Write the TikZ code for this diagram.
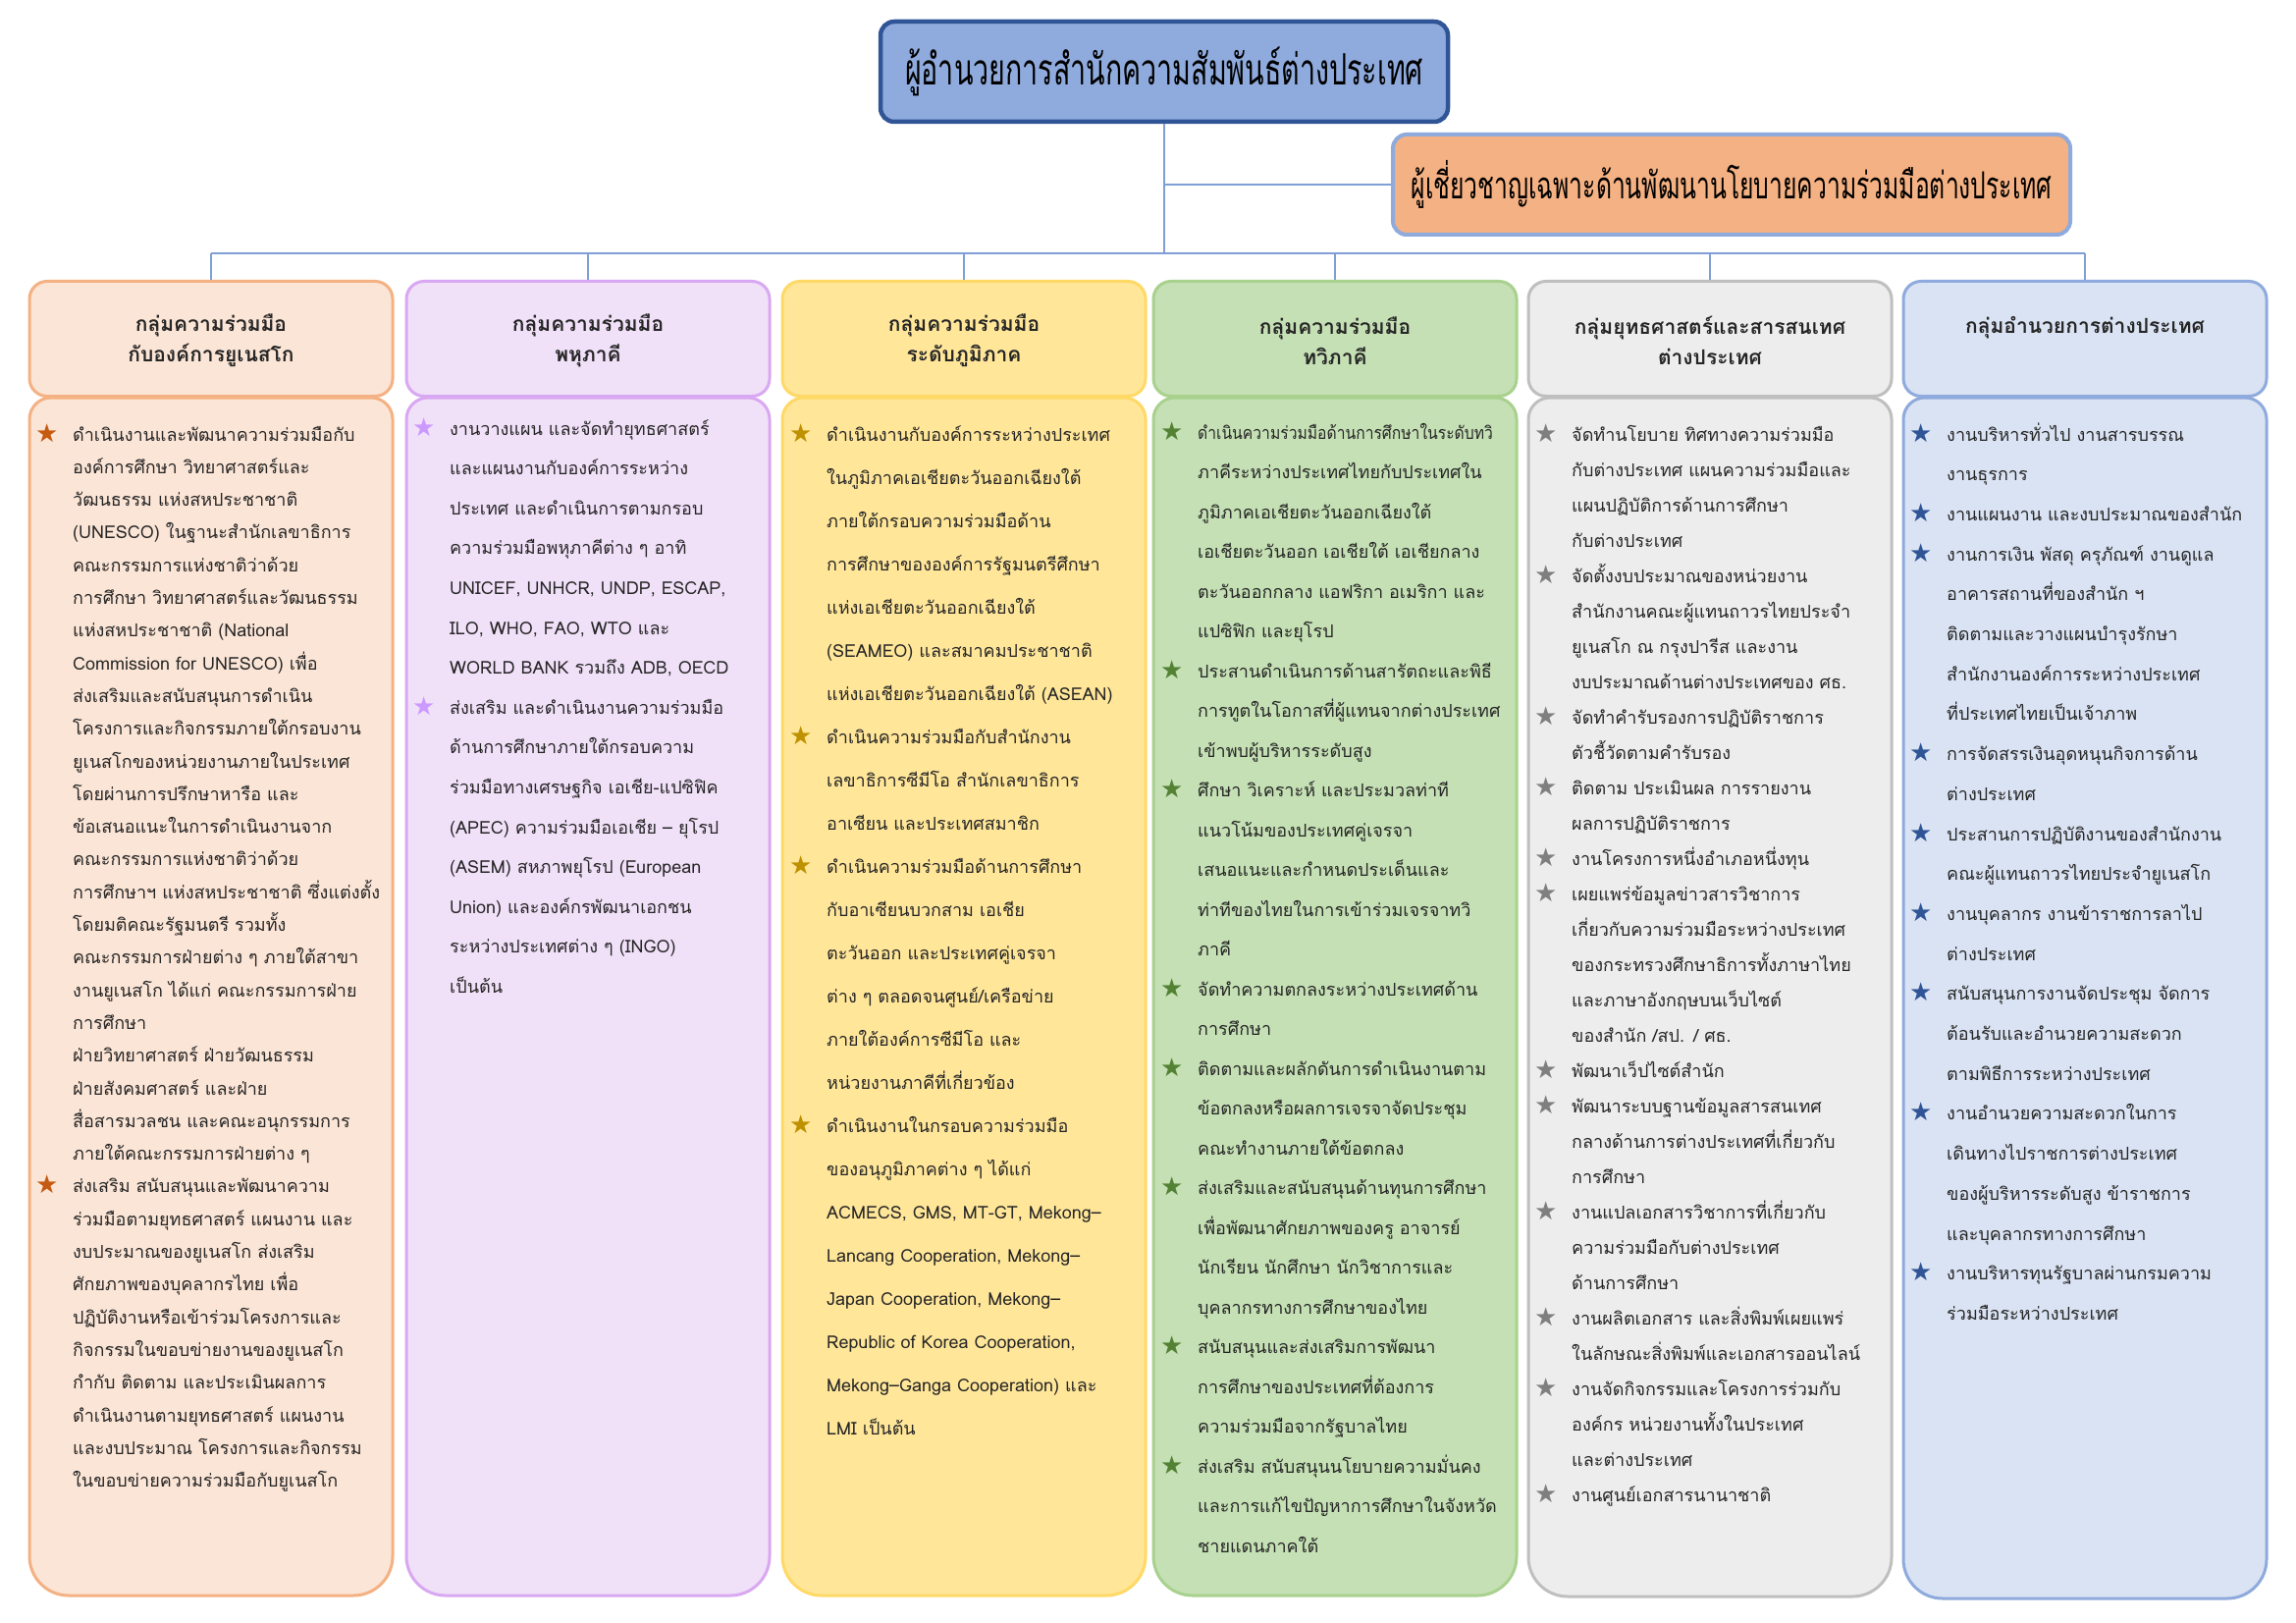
\documentclass[tikz,border=0pt]{standalone}
\usepackage{graphicx}
\usepackage{fontspec}
\setmainfont[Script=Thai]{Loma}
\newfontfamily\thai[Script=Thai]{Loma}
\newfontfamily\cond[Script=Thai,FakeStretch=0.65]{Loma}
\newfontfamily\symf{DejaVu Sans}
\setlength\parindent{0pt}
\definecolor{txt}{HTML}{262626}
\definecolor{conn}{HTML}{7F9FD5}
\definecolor{titlefill}{HTML}{8FAADC}
\definecolor{titledraw}{HTML}{2F5597}
\definecolor{expfill}{HTML}{F4B183}
\definecolor{expdraw}{HTML}{8FAADC}
\definecolor{fa}{HTML}{FBE5D6}\definecolor{da}{HTML}{F4B183}\definecolor{sa}{HTML}{C55A11}
\definecolor{fb}{HTML}{F0E0F8}\definecolor{db}{HTML}{D9A8F2}\definecolor{sb}{HTML}{CC99FF}
\definecolor{fc}{HTML}{FFE699}\definecolor{dc}{HTML}{FFD966}\definecolor{sc}{HTML}{BF9000}
\definecolor{fd}{HTML}{C5E0B4}\definecolor{dd}{HTML}{A9D18E}\definecolor{sd}{HTML}{548235}
\definecolor{fe}{HTML}{EDEDED}\definecolor{de}{HTML}{BFBFBF}\definecolor{se}{HTML}{7F7F7F}
\definecolor{ff}{HTML}{DAE3F3}\definecolor{df}{HTML}{8FAADC}\definecolor{sf}{HTML}{2F5597}
\newcommand\st[1]{\makebox[36pt][l]{\hspace*{-2pt}\raisebox{-1pt}{\textcolor{#1}{\symf\fontsize{26}{26}\selectfont ★}}}}
\newcommand\cn{\hspace*{36pt}}
\newcommand\sq[2]{\scalebox{#1}[1]{#2}}
\newcommand\body[6]{% left, right, top, bottom, fill, draw
  \draw[line width=3pt, fill=#5, draw=#6] (#1,700) [rounded corners=22] -- (#1,#3) -- (#2,#3) -- (#2,700) [rounded corners=40] -- (#2,#4) -- (#1,#4) -- cycle;}
\begin{document}
\begin{tikzpicture}[x=1pt,y=-1pt,
  connline/.style={draw=conn, line width=1.6pt},
  titlebox/.style={draw=titledraw, fill=titlefill, line width=4.5pt, rounded corners=14, minimum width=578pt, minimum height=102pt, inner sep=2pt, text=black, font=\cond\fontsize{44}{50}\selectfont},
  expbox/.style={draw=expdraw, fill=expfill, line width=4pt, rounded corners=14, minimum width=690pt, minimum height=102pt, inner sep=2pt, text=black, font=\cond\fontsize{38}{44}\selectfont},
  hdr/.style={line width=3pt, rounded corners=18, minimum width=370pt, minimum height=117pt},
  hdrtxt/.style={align=center, text=txt, font=\thai\bfseries\fontsize{21}{31}\selectfont},
  bodytxt/.style={anchor=base west, text width=390pt, align=left, text=txt, inner sep=0pt}
]
\useasboundingbox (0,0) rectangle (2339,1653);
\fill[white] (0,0) rectangle (2339,1653);

% bodies
\body{30}{400}{405}{1625}{fa}{da}
\body{414}{784}{405}{1625}{fb}{db}
\body{797}{1167}{405}{1625}{fc}{dc}
\body{1175}{1545}{405}{1625}{fd}{dd}
\body{1557}{1927}{405}{1626}{fe}{de}
\body{1939}{2309}{405}{1628}{ff}{df}

% top boxes
\node[titlebox] (dir) at (1186,73) {ผู้อำนวยการสำนักความสัมพันธ์ต่างประเทศ};
\node[expbox] (exp) at (1764,188) {ผู้เชี่ยวชาญเฉพาะด้านพัฒนานโยบายความร่วมมือต่างประเทศ};

% headers
\node[hdr, fill=fa, draw=da] (h1) at (215,345) {};
\node[hdr, fill=fb, draw=db] (h2) at (599,345) {};
\node[hdr, fill=fc, draw=dc] (h3) at (982,345) {};
\node[hdr, fill=fd, draw=dd] (h4) at (1360,345) {};
\node[hdr, fill=fe, draw=de] (h5) at (1742,345) {};
\node[hdr, fill=ff, draw=df] (h6) at (2124,345) {};

% connectors
\coordinate (j) at (1186,258);
\draw[connline] (dir.south) -- (j);
\draw[connline] (dir.south |- exp.west) -- (exp.west);
\draw[connline] (h1.north |- j) -- (h6.north |- j);
\foreach \h in {h1,h2,h3,h4,h5,h6} \draw[connline] (\h.north |- j) -- (\h.north);

% header texts
\node[hdrtxt] (ht1) at (215,347) {กลุ่มความร่วมมือ\\กับองค์การยูเนสโก};
\node[hdrtxt] (ht2) at (599,347) {กลุ่มความร่วมมือ\\พหุภาคี};
\node[hdrtxt] (ht3) at (982,347) {กลุ่มความร่วมมือ\\ระดับภูมิภาค};
\node[hdrtxt] (ht4) at (1360,347) {กลุ่มความร่วมมือ\\ทวิภาคี};
\node[hdrtxt] (ht5) at (1742,347) {กลุ่มยุทธศาสตร์และสารสนเทศ\\ต่างประเทศ};
\node[hdrtxt] (ht6) at (2124,334) {กลุ่มอำนวยการต่างประเทศ};

% body texts
\node[bodytxt, font=\thai\fontsize{18}{33.3}\selectfont] (t1) at (38,449) {%
\st{sa}ดำเนินงานและพัฒนาความร่วมมือกับ\\
\cn องค์การศึกษา วิทยาศาสตร์และ\\
\cn วัฒนธรรม แห่งสหประชาชาติ\\
\cn (UNESCO) ในฐานะสำนักเลขาธิการ\\
\cn คณะกรรมการแห่งชาติว่าด้วย\\
\cn การศึกษา วิทยาศาสตร์และวัฒนธรรม\\
\cn แห่งสหประชาชาติ (National\\
\cn Commission for UNESCO) เพื่อ\\
\cn ส่งเสริมและสนับสนุนการดำเนิน\\
\cn โครงการและกิจกรรมภายใต้กรอบงาน\\
\cn ยูเนสโกของหน่วยงานภายในประเทศ\\
\cn โดยผ่านการปรึกษาหารือ และ\\
\cn ข้อเสนอแนะในการดำเนินงานจาก\\
\cn คณะกรรมการแห่งชาติว่าด้วย\\
\cn การศึกษาฯ แห่งสหประชาชาติ ซึ่งแต่งตั้ง\\
\cn โดยมติคณะรัฐมนตรี รวมทั้ง\\
\cn คณะกรรมการฝ่ายต่าง ๆ ภายใต้สาขา\\
\cn งานยูเนสโก ได้แก่ คณะกรรมการฝ่าย\\
\cn การศึกษา\\
\cn ฝ่ายวิทยาศาสตร์ ฝ่ายวัฒนธรรม\\
\cn ฝ่ายสังคมศาสตร์ และฝ่าย\\
\cn สื่อสารมวลชน และคณะอนุกรรมการ\\
\cn ภายใต้คณะกรรมการฝ่ายต่าง ๆ\\
\st{sa}ส่งเสริม สนับสนุนและพัฒนาความ\\
\cn ร่วมมือตามยุทธศาสตร์ แผนงาน และ\\
\cn งบประมาณของยูเนสโก ส่งเสริม\\
\cn ศักยภาพของบุคลากรไทย เพื่อ\\
\cn ปฏิบัติงานหรือเข้าร่วมโครงการและ\\
\cn กิจกรรมในขอบข่ายงานของยูเนสโก\\
\cn กำกับ ติดตาม และประเมินผลการ\\
\cn ดำเนินงานตามยุทธศาสตร์ แผนงาน\\
\cn และงบประมาณ โครงการและกิจกรรม\\
\cn ในขอบข่ายความร่วมมือกับยูเนสโก};

\node[bodytxt, font=\thai\fontsize{18}{40.6}\selectfont] (t2) at (422,443) {%
\st{sb}งานวางแผน และจัดทำยุทธศาสตร์\\
\cn และแผนงานกับองค์การระหว่าง\\
\cn ประเทศ และดำเนินการตามกรอบ\\
\cn ความร่วมมือพหุภาคีต่าง ๆ อาทิ\\
\cn UNICEF, UNHCR, UNDP, ESCAP,\\
\cn ILO, WHO, FAO, WTO และ\\
\cn WORLD BANK รวมถึง ADB, OECD\\
\st{sb}ส่งเสริม และดำเนินงานความร่วมมือ\\
\cn ด้านการศึกษาภายใต้กรอบความ\\
\cn ร่วมมือทางเศรษฐกิจ เอเชีย-แปซิฟิค\\
\cn (APEC) ความร่วมมือเอเชีย – ยุโรป\\
\cn (ASEM) สหภาพยุโรป (European\\
\cn Union) และองค์กรพัฒนาเอกชน\\
\cn ระหว่างประเทศต่าง ๆ (INGO)\\
\cn เป็นต้น};

\node[bodytxt, font=\thai\fontsize{18}{44}\selectfont] (t3) at (806,449) {%
\st{sc}ดำเนินงานกับองค์การระหว่างประเทศ\\
\cn ในภูมิภาคเอเชียตะวันออกเฉียงใต้\\
\cn ภายใต้กรอบความร่วมมือด้าน\\
\cn การศึกษาขององค์การรัฐมนตรีศึกษา\\
\cn แห่งเอเชียตะวันออกเฉียงใต้\\
\cn (SEAMEO) และสมาคมประชาชาติ\\
\cn แห่งเอเชียตะวันออกเฉียงใต้ (ASEAN)\\
\st{sc}ดำเนินความร่วมมือกับสำนักงาน\\
\cn เลขาธิการซีมีโอ สำนักเลขาธิการ\\
\cn อาเซียน และประเทศสมาชิก\\
\st{sc}ดำเนินความร่วมมือด้านการศึกษา\\
\cn กับอาเซียนบวกสาม เอเชีย\\
\cn ตะวันออก และประเทศคู่เจรจา\\
\cn ต่าง ๆ ตลอดจนศูนย์/เครือข่าย\\
\cn ภายใต้องค์การซีมีโอ และ\\
\cn หน่วยงานภาคีที่เกี่ยวข้อง\\
\st{sc}ดำเนินงานในกรอบความร่วมมือ\\
\cn ของอนุภูมิภาคต่าง ๆ ได้แก่\\
\cn ACMECS, GMS, MT-GT, Mekong–\\
\cn Lancang Cooperation, Mekong–\\
\cn Japan Cooperation, Mekong–\\
\cn Republic of Korea Cooperation,\\
\cn Mekong–Ganga Cooperation) และ\\
\cn LMI เป็นต้น};

\node[bodytxt, font=\thai\fontsize{18}{40.5}\selectfont] (t4) at (1184,447) {%
\st{sd}\sq{0.87}{ดำเนินความร่วมมือด้านการศึกษาในระดับทวิ}\\
\cn ภาคีระหว่างประเทศไทยกับประเทศใน\\
\cn ภูมิภาคเอเชียตะวันออกเฉียงใต้\\
\cn เอเชียตะวันออก เอเชียใต้ เอเชียกลาง\\
\cn ตะวันออกกลาง แอฟริกา อเมริกา และ\\
\cn แปซิฟิก และยุโรป\\
\st{sd}ประสานดำเนินการด้านสารัตถะและพิธี\\
\cn การทูตในโอกาสที่ผู้แทนจากต่างประเทศ\\
\cn เข้าพบผู้บริหารระดับสูง\\
\st{sd}ศึกษา วิเคราะห์ และประมวลท่าที\\
\cn แนวโน้มของประเทศคู่เจรจา\\
\cn เสนอแนะและกำหนดประเด็นและ\\
\cn ท่าทีของไทยในการเข้าร่วมเจรจาทวิ\\
\cn ภาคี\\
\st{sd}จัดทำความตกลงระหว่างประเทศด้าน\\
\cn การศึกษา\\
\st{sd}ติดตามและผลักดันการดำเนินงานตาม\\
\cn ข้อตกลงหรือผลการเจรจาจัดประชุม\\
\cn คณะทำงานภายใต้ข้อตกลง\\
\st{sd}ส่งเสริมและสนับสนุนด้านทุนการศึกษา\\
\cn เพื่อพัฒนาศักยภาพของครู อาจารย์\\
\cn นักเรียน นักศึกษา นักวิชาการและ\\
\cn บุคลากรทางการศึกษาของไทย\\
\st{sd}สนับสนุนและส่งเสริมการพัฒนา\\
\cn การศึกษาของประเทศที่ต้องการ\\
\cn ความร่วมมือจากรัฐบาลไทย\\
\st{sd}ส่งเสริม สนับสนุนนโยบายความมั่นคง\\
\cn และการแก้ไขปัญหาการศึกษาในจังหวัด\\
\cn ชายแดนภาคใต้};

\node[bodytxt, font=\thai\fontsize{18}{36}\selectfont] (t5) at (1565,449) {%
\st{se}จัดทำนโยบาย ทิศทางความร่วมมือ\\
\cn กับต่างประเทศ แผนความร่วมมือและ\\
\cn แผนปฏิบัติการด้านการศึกษา\\
\cn กับต่างประเทศ\\
\st{se}จัดตั้งงบประมาณของหน่วยงาน\\
\cn สำนักงานคณะผู้แทนถาวรไทยประจำ\\
\cn ยูเนสโก ณ กรุงปารีส และงาน\\
\cn งบประมาณด้านต่างประเทศของ ศธ.\\
\st{se}จัดทำคำรับรองการปฏิบัติราชการ\\
\cn ตัวชี้วัดตามคำรับรอง\\
\st{se}ติดตาม ประเมินผล การรายงาน\\
\cn ผลการปฏิบัติราชการ\\
\st{se}งานโครงการหนึ่งอำเภอหนึ่งทุน\\
\st{se}เผยแพร่ข้อมูลข่าวสารวิชาการ\\
\cn เกี่ยวกับความร่วมมือระหว่างประเทศ\\
\cn ของกระทรวงศึกษาธิการทั้งภาษาไทย\\
\cn และภาษาอังกฤษบนเว็บไซต์\\
\cn ของสำนัก /สป. / ศธ.\\
\st{se}พัฒนาเว็ปไซต์สำนัก\\
\st{se}พัฒนาระบบฐานข้อมูลสารสนเทศ\\
\cn กลางด้านการต่างประเทศที่เกี่ยวกับ\\
\cn การศึกษา\\
\st{se}งานแปลเอกสารวิชาการที่เกี่ยวกับ\\
\cn ความร่วมมือกับต่างประเทศ\\
\cn ด้านการศึกษา\\
\st{se}งานผลิตเอกสาร และสิ่งพิมพ์เผยแพร่\\
\cn ในลักษณะสิ่งพิมพ์และเอกสารออนไลน์\\
\st{se}งานจัดกิจกรรมและโครงการร่วมกับ\\
\cn องค์กร หน่วยงานทั้งในประเทศ\\
\cn และต่างประเทศ\\
\st{se}งานศูนย์เอกสารนานาชาติ};

\node[bodytxt, font=\thai\fontsize{18}{40.7}\selectfont] (t6) at (1947,449) {%
\st{sf}งานบริหารทั่วไป งานสารบรรณ\\
\cn งานธุรการ\\
\st{sf}งานแผนงาน และงบประมาณของสำนัก\\
\st{sf}งานการเงิน พัสดุ ครุภัณฑ์ งานดูแล\\
\cn อาคารสถานที่ของสำนัก ฯ\\
\cn ติดตามและวางแผนบำรุงรักษา\\
\cn สำนักงานองค์การระหว่างประเทศ\\
\cn ที่ประเทศไทยเป็นเจ้าภาพ\\
\st{sf}การจัดสรรเงินอุดหนุนกิจการด้าน\\
\cn ต่างประเทศ\\
\st{sf}ประสานการปฏิบัติงานของสำนักงาน\\
\cn คณะผู้แทนถาวรไทยประจำยูเนสโก\\
\st{sf}งานบุคลากร งานข้าราชการลาไป\\
\cn ต่างประเทศ\\
\st{sf}สนับสนุนการงานจัดประชุม จัดการ\\
\cn ต้อนรับและอำนวยความสะดวก\\
\cn ตามพิธีการระหว่างประเทศ\\
\st{sf}งานอำนวยความสะดวกในการ\\
\cn เดินทางไปราชการต่างประเทศ\\
\cn ของผู้บริหารระดับสูง ข้าราชการ\\
\cn และบุคลากรทางการศึกษา\\
\st{sf}งานบริหารทุนรัฐบาลผ่านกรมความ\\
\cn ร่วมมือระหว่างประเทศ};
\end{tikzpicture}
\end{document}
